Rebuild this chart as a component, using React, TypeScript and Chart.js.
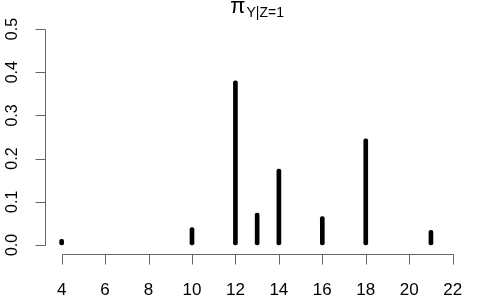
import React, { useEffect, useRef } from "react";
import { Chart, registerables } from "chart.js";

Chart.register(...registerables);

const xValues = [4, 10, 12, 13, 14, 16, 18, 21];
const probabilities = [0.013, 0.04, 0.38, 0.074, 0.176, 0.066, 0.246, 0.034];
const xTickValues = [4, 6, 8, 10, 12, 14, 16, 18, 20, 22];
const yTickValues = [0, 0.1, 0.2, 0.3, 0.4, 0.5];
const yTickLabels = ["0.0", "0.1", "0.2", "0.3", "0.4", "0.5"];
const titleMain = "π";
const titleSub = "Y|Z=1";

const FONT = '"Liberation Sans", Arial, Helvetica, sans-serif';

const rAxesPlugin = {
  id: "rAxes",
  afterDraw(chart: any) {
    const ctx = chart.ctx as CanvasRenderingContext2D;
    const xs = chart.scales.x;
    const ys = chart.scales.y;
    const area = chart.chartArea;
    ctx.save();
    ctx.strokeStyle = "#666";
    ctx.lineWidth = 1;
    ctx.fillStyle = "#000";
    const tickLen = 10;

    // x axis
    const xAxisY = Math.round(area.bottom) + 0.5;
    const x0 = Math.round(xs.getPixelForValue(xTickValues[0])) + 0.5;
    const x1 = Math.round(xs.getPixelForValue(xTickValues[xTickValues.length - 1])) + 0.5;
    ctx.beginPath();
    ctx.moveTo(x0, xAxisY);
    ctx.lineTo(x1, xAxisY);
    xTickValues.forEach((v) => {
      const px = Math.round(xs.getPixelForValue(v)) + 0.5;
      ctx.moveTo(px, xAxisY);
      ctx.lineTo(px, xAxisY + tickLen);
    });
    ctx.stroke();
    ctx.font = `17px ${FONT}`;
    ctx.textAlign = "center";
    ctx.textBaseline = "middle";
    xTickValues.forEach((v) => {
      ctx.fillText(String(v), xs.getPixelForValue(v), 290);
    });

    // y axis
    const yAxisX = Math.round(area.left) - 0.5;
    const y0 = Math.round(ys.getPixelForValue(yTickValues[0])) + 0.5;
    const y1 = Math.round(ys.getPixelForValue(yTickValues[yTickValues.length - 1])) + 0.5;
    ctx.beginPath();
    ctx.moveTo(yAxisX, y0);
    ctx.lineTo(yAxisX, y1);
    yTickValues.forEach((v) => {
      const py = Math.round(ys.getPixelForValue(v)) + 0.5;
      ctx.moveTo(yAxisX, py);
      ctx.lineTo(yAxisX - tickLen, py);
    });
    ctx.stroke();
    ctx.font = `16px ${FONT}`;
    yTickValues.forEach((v, i) => {
      const py = ys.getPixelForValue(v);
      ctx.save();
      ctx.translate(12.5, py);
      ctx.rotate(-Math.PI / 2);
      ctx.textAlign = "center";
      ctx.textBaseline = "middle";
      ctx.fillText(yTickLabels[i], 0, 0);
      ctx.restore();
    });

    // title
    const mainFont = `22px ${FONT}`;
    const subFont = `14px ${FONT}`;
    ctx.font = mainFont;
    const wMain = ctx.measureText(titleMain).width;
    ctx.font = subFont;
    const wSub = ctx.measureText(titleSub).width;
    const cx = (area.left + area.right) / 2;
    const startX = cx - (wMain + wSub + 1) / 2;
    ctx.textAlign = "left";
    ctx.textBaseline = "alphabetic";
    ctx.font = mainFont;
    ctx.fillText(titleMain, startX, 13);
    ctx.font = subFont;
    ctx.fillText(titleSub, startX + wMain + 1, 17);
    ctx.restore();
  },
};

export default function App() {
  const canvasRef = useRef<HTMLCanvasElement | null>(null);

  useEffect(() => {
    const canvas = canvasRef.current;
    if (!canvas) return;
    const chart = new Chart(canvas, {
      type: "bar",
      data: {
        datasets: [
          {
            data: xValues.map((x, i) => ({ x, y: probabilities[i] })),
            backgroundColor: "#000",
            barThickness: 4,
            borderRadius: 2,
            borderSkipped: false,
          },
        ],
      },
      options: {
        responsive: false,
        animation: false,
        layout: { padding: { left: 46, right: 11.7, top: 20.4, bottom: 46.4 } },
        plugins: { legend: { display: false }, tooltip: { enabled: false }, title: { display: false } },
        scales: {
          x: { type: "linear", min: 3.28, max: 22.72, offset: false, display: false },
          y: { type: "linear", min: -0.02, max: 0.52, display: false },
        },
      },
      plugins: [rAxesPlugin],
    });
    return () => chart.destroy();
  }, []);

  return (
    <div style={{ position: "absolute", left: 0, top: 0, width: 480, height: 300, background: "#fff" }}>
      <canvas ref={canvasRef} width={480} height={300} style={{ display: "block" }} />
    </div>
  );
}
